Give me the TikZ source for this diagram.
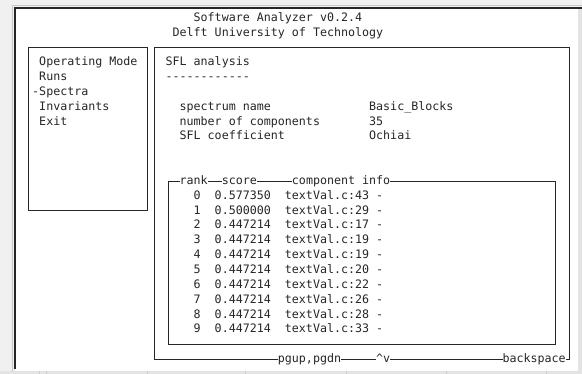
\documentclass[tikz,border=0pt]{standalone}
\usepackage{fontspec}
\setmonofont{DejaVu Sans Mono}
\begin{document}
\begin{tikzpicture}[
    every node/.style={font=\ttfamily\fontsize{11.66}{14}\selectfont, text=black!85},
    tty/.style={anchor=base west, yshift=-3.2pt, inner sep=0pt, text height=8.6pt, text depth=2.6pt},
    ttylabel/.style={tty, fill=white},
    frameline/.style={black!85, line width=0.9pt}
]
    % window chrome
        \useasboundingbox (0,0) rectangle (582pt,-374pt);
        \fill[gray!12] (0,0) rectangle (582pt,-374pt);
        \fill[white] (15pt,-8pt) rectangle (578pt,-371pt);
        \draw[gray!45, line width=1pt] (12.5pt,-372pt) -- (12.5pt,-5.5pt) -- (582pt,-5.5pt);
        \draw[black!85, line width=1.6pt] (15pt,-369pt) -- (15pt,-8pt) -- (582pt,-8pt);
        \fill[gray!22] (578pt,-9pt) rectangle (582pt,-371pt);
        \fill[gray!22] (0,-371pt) rectangle (582pt,-374pt);
        \foreach \x in {39,46,147,245,346,446,546}
            \draw[gray!40] (\x pt,-371pt) -- (\x pt,-374pt);

    % terminal grid: one unit = one character cell
    \begin{scope}[shift={(25pt,-18.02pt)}, x=7.02pt, y=-14.84pt]
    % TOP: title
        \node[tty] (title) at (24,0) {Software Analyzer v0.2.4};
        \node[tty] (uni) at (21,1) {Delft University of Technology};

    % LEFT: menu
        \draw[frameline] (0.5,2) rectangle (17.5,13);
        \foreach \c/\t [count=\i] in {2/Operating Mode, 2/Runs, 1/-Spectra, 2/Invariants, 2/Exit}
            \node[tty] (menu\i) at (\c,{2+\i}) {\t};

    % RIGHT: analysis panel
        \draw[frameline] (18.5,2) rectangle (77.5,23);
        \node[tty] (head) at (20,3) {SFL analysis};
        \node[tty] (rule) at (20,4) {-{}-{}-{}-{}-{}-{}-{}-{}-{}-{}-{}-};
        \node[tty] (specname) at (22,6) {spectrum name};
        \node[tty] (specval) at (49,6) {Basic\_Blocks};
        \node[tty] (compname) at (22,7) {number of components};
        \node[tty] (compval) at (49,7) {35};
        \node[tty] (coefname) at (22,8) {SFL coefficient};
        \node[tty] (coefval) at (49,8) {Ochiai};
        \node[ttylabel] (pgkeys) at (36,23) {pgup,pgdn};
        \node[ttylabel] (arrows) at (50,23) {\textasciicircum{}v};
        \node[ttylabel] (bksp) at (68,23) {backspace};

    % ranking table
        \draw[frameline] (20.5,11) rectangle (75.5,22);
        \node[ttylabel] (colrank) at (22,11) {rank};
        \node[ttylabel] (colscore) at (28,11) {score};
        \node[ttylabel] (colinfo) at (38,11) {component info};
        \foreach \s/\l [count=\i from 0] in {0.577350/43, 0.500000/29, 0.447214/17,
                0.447214/19, 0.447214/19, 0.447214/20, 0.447214/22, 0.447214/26,
                0.447214/28, 0.447214/33} {
            \node[tty] (rank\i) at (24,{12+\i}) {\i};
            \node[tty] (score\i) at (27,{12+\i}) {\s};
            \node[tty] (info\i) at (37,{12+\i}) {textVal.c:\l{} -};
        }
    \end{scope}
\end{tikzpicture}
\end{document}
